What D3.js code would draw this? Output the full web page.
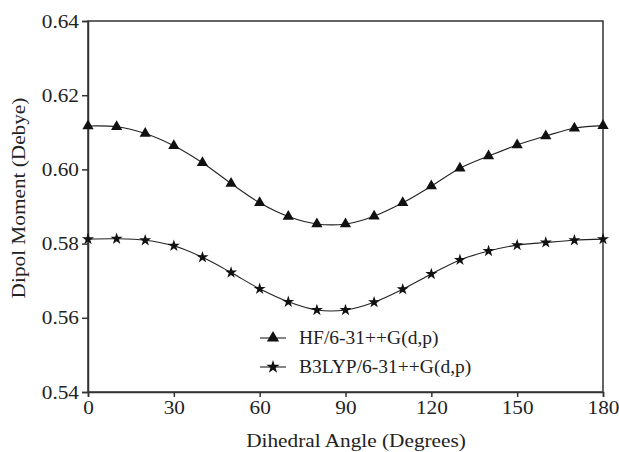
<!DOCTYPE html>
<html>
<head>
<meta charset="utf-8">
<script src="https://cdn.jsdelivr.net/npm/d3@7"></script>
<style>
  body { margin: 0; background: #fff; }
  svg text { font-family: "Liberation Serif", "Times New Roman", serif; fill: #222; }
</style>
</head>
<body>
<div id="chart"></div>
<script>
const angles = [0, 10, 20, 30, 40, 50, 60, 70, 80, 90, 100, 110, 120, 130, 140, 150, 160, 170, 180];
const hfValues = [0.6117, 0.6115, 0.6097, 0.6064, 0.6018, 0.5962, 0.5910, 0.5873, 0.5853, 0.5853,
                  0.5874, 0.5910, 0.5955, 0.6003, 0.6036, 0.6066, 0.6090, 0.6111, 0.6118];
const b3lypValues = [0.5812, 0.5813, 0.5809, 0.5794, 0.5763, 0.5722, 0.5678, 0.5643, 0.5621, 0.5621,
                     0.5642, 0.5677, 0.5718, 0.5756, 0.5780, 0.5796, 0.5803, 0.5809, 0.5812];
const xTicks = [0, 30, 60, 90, 120, 150, 180];
const yTicks = [0.54, 0.56, 0.58, 0.60, 0.62, 0.64];
const seriesNames = ["HF/6-31++G(d,p)", "B3LYP/6-31++G(d,p)"];

const width = 619, height = 452;
const margin = { top: 21, right: 16, bottom: 60, left: 88 };
const stretch = 1.12; // reference type is set a bit wider than Liberation Serif

const svg = d3.select("#chart").append("svg")
    .attr("width", width)
    .attr("height", height);

const x = d3.scaleLinear().domain([0, 180]).range([margin.left, width - margin.right]);
const y = d3.scaleLinear().domain([0.54, 0.64]).range([height - margin.bottom, margin.top]);

// frame
svg.append("rect")
    .attr("x", x(0)).attr("y", y(0.64))
    .attr("width", x(180) - x(0)).attr("height", y(0.54) - y(0.64))
    .attr("fill", "none").attr("stroke", "#333").attr("stroke-width", 1.5);

const xAxis = svg.append("g")
    .attr("transform", `translate(0,${y(0.54)})`)
    .call(d3.axisBottom(x).tickValues(xTicks).tickSize(5).tickPadding(4).tickFormat(d3.format("d")));
const yAxis = svg.append("g")
    .attr("transform", `translate(${x(0)},0)`)
    .call(d3.axisLeft(y).tickValues(yTicks).tickSize(6).tickPadding(3).tickFormat(d3.format(".2f")));

[xAxis, yAxis].forEach(g => {
    g.select(".domain").attr("stroke", "#333").attr("stroke-width", 1.5);
    g.selectAll(".tick line").attr("stroke", "#333").attr("stroke-width", 1.5);
    g.selectAll("text").attr("font-size", 19).attr("fill", "#222")
        .style("font-family", "'Liberation Serif', serif");
});
xAxis.selectAll(".tick text").attr("transform", `scale(${stretch},1)`);
yAxis.selectAll(".tick text")
    .attr("x", -9 / stretch)
    .attr("transform", `scale(${stretch},1)`);

svg.append("text")
    .attr("transform", `translate(356,447) scale(${stretch},1)`)
    .attr("text-anchor", "middle")
    .attr("font-size", 19)
    .text("Dihedral Angle (Degrees)");

svg.append("text")
    .attr("transform", `translate(25,198) rotate(-90) scale(${stretch},1)`)
    .attr("text-anchor", "middle")
    .attr("font-size", 19)
    .text("Dipol Moment (Debye)");

const line = d3.line()
    .x(d => x(d[0]))
    .y(d => y(d[1]))
    .curve(d3.curveCatmullRom);

const series = [
    { name: seriesNames[0], values: hfValues, symbol: d3.symbolTriangle, size: 55 },
    { name: seriesNames[1], values: b3lypValues, symbol: d3.symbolStar, size: 45 }
];

series.forEach(s => {
    const pts = angles.map((a, i) => [a, s.values[i]]);
    svg.append("path")
        .datum(pts)
        .attr("d", line)
        .attr("fill", "none")
        .attr("stroke", "#222")
        .attr("stroke-width", 1.1);
    svg.append("g")
        .selectAll("path")
        .data(pts)
        .join("path")
        .attr("transform", d => `translate(${x(d[0])},${y(d[1])})`)
        .attr("d", d3.symbol().type(s.symbol).size(s.size))
        .attr("fill", "#111");
});

// legend
const legend = svg.append("g");
series.forEach((s, i) => {
    const ly = 338 + i * 29;
    legend.append("line")
        .attr("x1", 260).attr("x2", 286)
        .attr("y1", ly).attr("y2", ly)
        .attr("stroke", "#222").attr("stroke-width", 1.1);
    legend.append("path")
        .attr("transform", `translate(273,${ly})`)
        .attr("d", d3.symbol().type(s.symbol).size(s.size + 10))
        .attr("fill", "#111");
    legend.append("text")
        .attr("x", 299).attr("y", ly + 6)
        .attr("font-size", 19.5)
        .text(s.name);
});
</script>
</body>
</html>
